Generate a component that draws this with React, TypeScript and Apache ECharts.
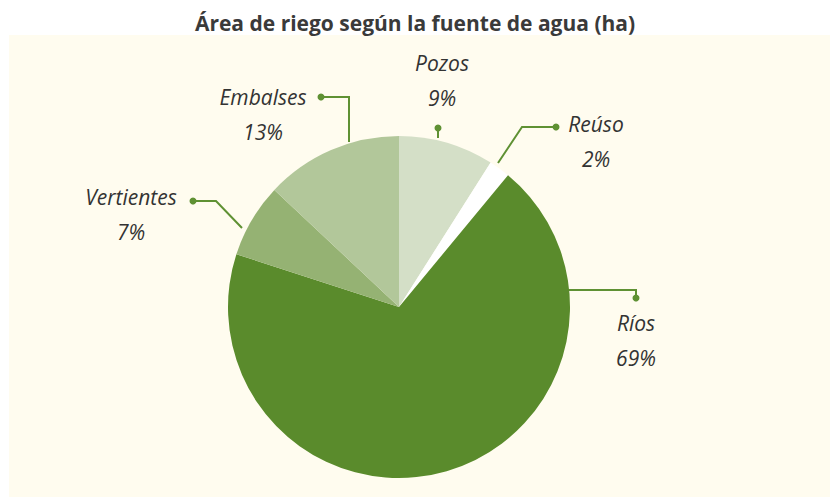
import React, { useEffect, useRef } from "react";
import * as echarts from "echarts";

const categories = ["Pozos", "Reúso", "Ríos", "Vertientes", "Embalses"];
const values = [9, 2, 69, 7, 13];
const colors = ["#d4dfc7", "#ffffff", "#5a8b2c", "#95b273", "#b2c79a"];

const LINE_COLOR = "#5f9133";

// label placements (center x, middle y) and leader-line points per slice
const labelPos: [number, number][] = [
  [442, 80],
  [596, 141],
  [636, 340],
  [131, 214],
  [263, 114],
];
const linePts: number[][][] = [
  [[438, 138], [438, 133], [438, 128]],
  [[498, 163], [522, 127], [556, 127]],
  [[569, 290], [636, 290], [636, 298]],
  [[242, 228], [216, 201], [193, 201]],
  [[349, 142], [349, 97], [321, 97]],
];

export default function App() {
  const ref = useRef<HTMLDivElement>(null);
  useEffect(() => {
    document.body.style.margin = "0";
    const chart = echarts.init(ref.current!, null, { renderer: "svg" });
    const txt = {
      fontFamily: "Open Sans",
      fontStyle: "italic",
      fontSize: 21,
      color: "#333333",
      lineHeight: 35,
      align: "center",
    };
    chart.setOption({
      animation: false,
      backgroundColor: "#ffffff",
      title: {
        text: "Área de riego según la fuente de agua (ha)",
        left: "center",
        top: 7,
        textStyle: {
          fontFamily: "Open Sans",
          fontWeight: "bold",
          fontSize: 21,
          color: "#3a3a3a",
        },
      },
      graphic: [
        {
          type: "rect",
          z: -10,
          silent: true,
          shape: { x: 9, y: 35, width: 821, height: 462 },
          style: { fill: "#fffcef" },
        },
        ...linePts.map((p) => ({
          type: "circle",
          z: 100,
          silent: true,
          shape: { cx: p[2][0], cy: p[2][1], r: 3.5 },
          style: { fill: LINE_COLOR },
        })),
      ],
      series: [
        {
          type: "pie",
          center: [399, 307],
          radius: 171,
          startAngle: 90,
          clockwise: true,
          data: categories.map((c, i) => ({
            name: c,
            value: values[i],
            itemStyle: { color: colors[i] },
          })),
          label: {
            show: true,
            formatter: (p: any) => `{n|${p.name}}\n{p|${p.value}%}`,
            rich: { n: txt, p: txt },
          },
          labelLine: {
            show: true,
            length: 10,
            length2: 10,
            lineStyle: { color: LINE_COLOR, width: 2 },
          },
          labelLayout: (params: any) => {
            const i = params.dataIndex;
            return {
              x: labelPos[i][0],
              y: labelPos[i][1],
              align: "center",
              verticalAlign: "middle",
              labelLinePoints: linePts[i],
            };
          },
          emphasis: { disabled: true },
        },
      ],
    });
    return () => chart.dispose();
  }, []);
  return <div ref={ref} style={{ width: 830, height: 497 }} />;
}
